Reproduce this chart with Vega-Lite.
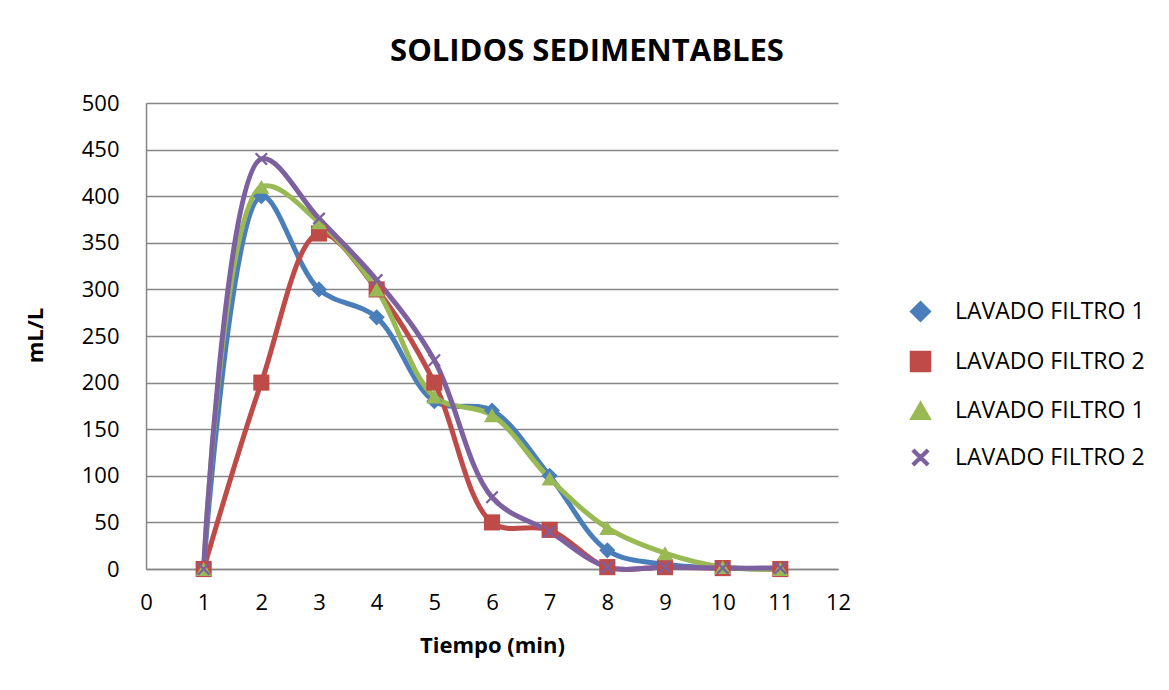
{
  "$schema": "https://vega.github.io/schema/vega-lite/v6.json",
  "width": 692,
  "height": 466,
  "autosize": {"type": "none"},
  "padding": {"left": 146, "top": 103, "right": 331, "bottom": 121},
  "background": "white",
  "config": {"view": {"stroke": null}, "font": "Open Sans"},
  "title": {"text": "SOLIDOS SEDIMENTABLES", "font": "Open Sans", "fontSize": 31, "fontWeight": "bold", "color": "black", "anchor": "middle", "dx": 95, "dy": 41, "baseline": "alphabetic", "offset": 41},
  "data": {"values": [
    {"t": 1, "v": 0, "s": "S1"}, {"t": 2, "v": 400, "s": "S1"}, {"t": 3, "v": 300, "s": "S1"}, {"t": 4, "v": 270, "s": "S1"}, {"t": 5, "v": 180, "s": "S1"}, {"t": 6, "v": 170, "s": "S1"}, {"t": 7, "v": 100, "s": "S1"}, {"t": 8, "v": 20, "s": "S1"}, {"t": 9, "v": 5, "s": "S1"}, {"t": 10, "v": 1, "s": "S1"}, {"t": 11, "v": 0, "s": "S1"},
    {"t": 1, "v": 0, "s": "S2"}, {"t": 2, "v": 200, "s": "S2"}, {"t": 3, "v": 360, "s": "S2"}, {"t": 4, "v": 300, "s": "S2"}, {"t": 5, "v": 200, "s": "S2"}, {"t": 6, "v": 50, "s": "S2"}, {"t": 7, "v": 42, "s": "S2"}, {"t": 8, "v": 2, "s": "S2"}, {"t": 9, "v": 2, "s": "S2"}, {"t": 10, "v": 1, "s": "S2"}, {"t": 11, "v": 0, "s": "S2"},
    {"t": 1, "v": 0, "s": "S3"}, {"t": 2, "v": 410, "s": "S3"}, {"t": 3, "v": 372, "s": "S3"}, {"t": 4, "v": 300, "s": "S3"}, {"t": 5, "v": 185, "s": "S3"}, {"t": 6, "v": 165, "s": "S3"}, {"t": 7, "v": 97, "s": "S3"}, {"t": 8, "v": 44, "s": "S3"}, {"t": 9, "v": 17, "s": "S3"}, {"t": 10, "v": 2, "s": "S3"}, {"t": 11, "v": 0, "s": "S3"},
    {"t": 1, "v": 0, "s": "S4"}, {"t": 2, "v": 440, "s": "S4"}, {"t": 3, "v": 376, "s": "S4"}, {"t": 4, "v": 310, "s": "S4"}, {"t": 5, "v": 224, "s": "S4"}, {"t": 6, "v": 77, "s": "S4"}, {"t": 7, "v": 40, "s": "S4"}, {"t": 8, "v": 2, "s": "S4"}, {"t": 9, "v": 2, "s": "S4"}, {"t": 10, "v": 1, "s": "S4"}, {"t": 11, "v": 1, "s": "S4"}
  ]},
  "encoding": {
    "x": {"field": "t", "type": "quantitative", "scale": {"domain": [0, 12], "nice": false},
      "axis": {"values": [0,1,2,3,4,5,6,7,8,9,10,11,12], "grid": false, "domainColor": "#868686", "domainWidth": 1.5, "ticks": false, "labelFontSize": 22, "labelColor": "black", "labelPadding": 23, "labelFlush": false,
        "title": "Tiempo (min)", "titleFontSize": 22, "titleFontWeight": "bold", "titleColor": "black", "titleX": 346, "titleY": 76, "titleBaseline": "middle", "titleAlign": "center"}},
    "y": {"field": "v", "type": "quantitative", "scale": {"domain": [0, 500], "nice": false},
      "axis": {"values": [0,50,100,150,200,250,300,350,400,450,500], "grid": true, "gridColor": "#868686", "gridWidth": 1.5, "domainColor": "#868686", "domainWidth": 1.5, "ticks": false, "labelFontSize": 22, "labelColor": "black", "labelPadding": 27,
        "title": "mL/L", "titleAngle": -90, "titleX": -111, "titleY": 232, "titleBaseline": "middle", "titleAlign": "center", "titleFontSize": 22, "titleFontWeight": "bold", "titleColor": "black"}}
  },
  "layer": [
    {"mark": {"type": "line", "interpolate": "catmull-rom", "strokeWidth": 5, "strokeCap": "round", "strokeJoin": "round"},
      "encoding": {"color": {"field": "s", "type": "nominal", "scale": {"domain": ["S1","S2","S3","S4"], "range": ["#4A7EBB","#BE4B48","#98B954","#7D60A0"]}}}},
    {"mark": {"type": "point", "filled": true, "size": 260, "opacity": 1},
      "encoding": {
        "color": {"field": "s", "type": "nominal",
          "legend": {"orient": "none", "legendX": 763, "legendY": 197, "title": null, "padding": 0, "labelFont": "Open Sans", "labelFontSize": 23, "labelColor": "black", "labelOffset": 23, "labelLimit": 400, "rowPadding": 23, "symbolSize": 400,
            "labelExpr": "(datum.value === 'S1' || datum.value === 'S3') ? 'LAVADO FILTRO 1' : 'LAVADO FILTRO 2'"}},
        "shape": {"field": "s", "type": "nominal", "scale": {"domain": ["S1","S2","S3","S4"], "range": ["diamond", "square", "triangle-up", "M0.608,-0.806L0.806,-0.608L0.198,0L0.806,0.608L0.608,0.806L0,0.198L-0.608,0.806L-0.806,0.608L-0.198,0L-0.806,-0.608L-0.608,-0.806L0,-0.198Z"]},
          "legend": null}
      }}
  ]
}
